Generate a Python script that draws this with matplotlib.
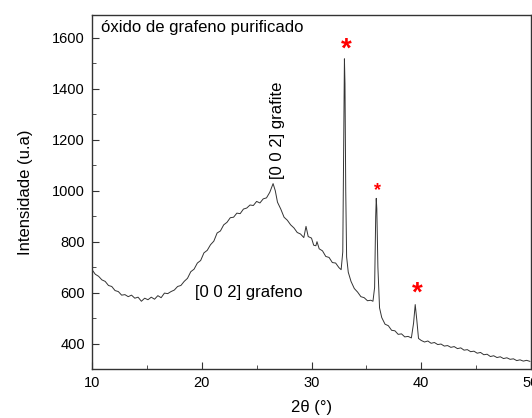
import matplotlib
matplotlib.use("Agg")
import matplotlib.pyplot as plt
from matplotlib.ticker import MultipleLocator

plt.rcParams['font.family'] = ['Liberation Sans', 'DejaVu Sans']

two_theta = [10.0, 10.3, 10.6, 10.9, 11.2, 11.5, 11.8, 12.1, 12.4, 12.7, 13.0, 13.3, 13.6, 13.9,
             14.2, 14.5, 14.8, 15.1, 15.4, 15.7, 16.0, 16.3, 16.6, 16.9, 17.2, 17.5, 17.8, 18.1,
             18.4, 18.7, 19.0, 19.3, 19.6, 19.9, 20.2, 20.5, 20.8, 21.1, 21.4, 21.7, 22.0, 22.3,
             22.6, 22.9, 23.2, 23.5, 23.8, 24.1, 24.4, 24.7, 25.0, 25.3, 25.6, 25.9, 26.2, 26.5,
             26.7, 26.9, 27.2, 27.5, 27.8, 28.1, 28.4, 28.7, 29.0, 29.3, 29.5, 29.7, 30.0, 30.2,
             30.4, 30.5, 30.7, 31.0, 31.3, 31.6, 31.9, 32.2, 32.5, 32.7, 32.85, 32.95, 33.0, 33.05,
             33.12, 33.2, 33.35, 33.6, 33.9, 34.2, 34.5, 34.8, 35.1, 35.4, 35.6, 35.75, 35.85, 35.9,
             35.95, 36.05, 36.2, 36.4, 36.7, 37.0, 37.3, 37.6, 37.9, 38.2, 38.5, 38.8, 39.1, 39.3,
             39.45, 39.6, 39.75, 40.0, 40.3, 40.6, 40.9, 41.2, 41.5, 41.8, 42.1, 42.4, 42.7, 43.0,
             43.3, 43.6, 43.9, 44.2, 44.5, 44.8, 45.1, 45.4, 45.7, 46.0, 46.3, 46.6, 46.9, 47.2,
             47.5, 47.8, 48.1, 48.4, 48.7, 49.0, 49.3, 49.6, 49.9]
intensity = [690, 672, 664, 650, 644, 628, 624, 608, 604, 590, 592, 584, 590, 578,
             582, 566, 578, 572, 582, 574, 588, 580, 598, 596, 604, 610, 624, 628,
             644, 656, 682, 692, 716, 726, 756, 766, 788, 802, 834, 842, 866, 876,
             894, 896, 912, 910, 928, 932, 944, 942, 958, 952, 968, 972, 994, 1028,
             1000, 955, 928, 896, 884, 866, 854, 836, 830, 816, 860, 820, 814, 786,
             784, 800, 772, 764, 742, 738, 718, 716, 698, 690, 760, 1300, 1518, 1420,
             1000, 740, 680, 644, 616, 602, 584, 580, 568, 570, 566, 620, 900, 970,
             930, 700, 540, 502, 476, 470, 452, 450, 436, 438, 426, 428, 422, 480,
             553, 490, 420, 412, 406, 410, 401, 404, 396, 398, 390, 392, 385, 388,
             380, 383, 374, 376, 368, 370, 362, 365, 356, 358, 349, 352, 345, 348,
             341, 344, 338, 340, 333, 336, 331, 334, 330]

x_ticks = [10, 20, 30, 40, 50]
y_ticks = [400, 600, 800, 1000, 1200, 1400, 1600]

fig = plt.figure(figsize=(5.32, 4.18), dpi=100)
ax = fig.add_axes([92/532, 1-369/418, 439/532, 354/418])
ax.plot(two_theta, intensity, color='#333333', lw=0.7)
ax.set_xlim(10, 50)
ax.set_ylim(300, 1690)
ax.set_xticks(x_ticks)
ax.set_yticks(y_ticks)
ax.xaxis.set_minor_locator(MultipleLocator(5))
ax.yaxis.set_minor_locator(MultipleLocator(100))
ax.tick_params(which='both', direction='in', labelsize=10.5, color='#333333')
ax.tick_params(which='major', length=5, pad=5)
ax.tick_params(which='minor', length=3)
for s in ax.spines.values():
    s.set_color('#333333')
    s.set_linewidth(1.0)

ax.set_xlabel('2θ (°)', fontsize=12, labelpad=7)
ax.set_ylabel('Intensidade (u.a)', fontsize=12, labelpad=14)

ax.text(0.02, 0.985, 'óxido de grafeno purificado', transform=ax.transAxes,
        fontsize=12, va='top', ha='left')
ax.text(26.9, 1045, '[0 0 2] grafite', rotation=90, fontsize=12, ha='center', va='bottom')
ax.text(19.4, 600, '[0 0 2] grafeno', fontsize=12, ha='left', va='center')

ax.text(33.18, 1555, '*', color='red', fontsize=20, fontweight='bold', ha='center', va='center')
ax.text(36.0, 1000, '*', color='red', fontsize=13, fontweight='bold', ha='center', va='center')
ax.text(39.6, 595, '*', color='red', fontsize=20, fontweight='bold', ha='center', va='center')

fig.savefig('out.png', dpi=100)
